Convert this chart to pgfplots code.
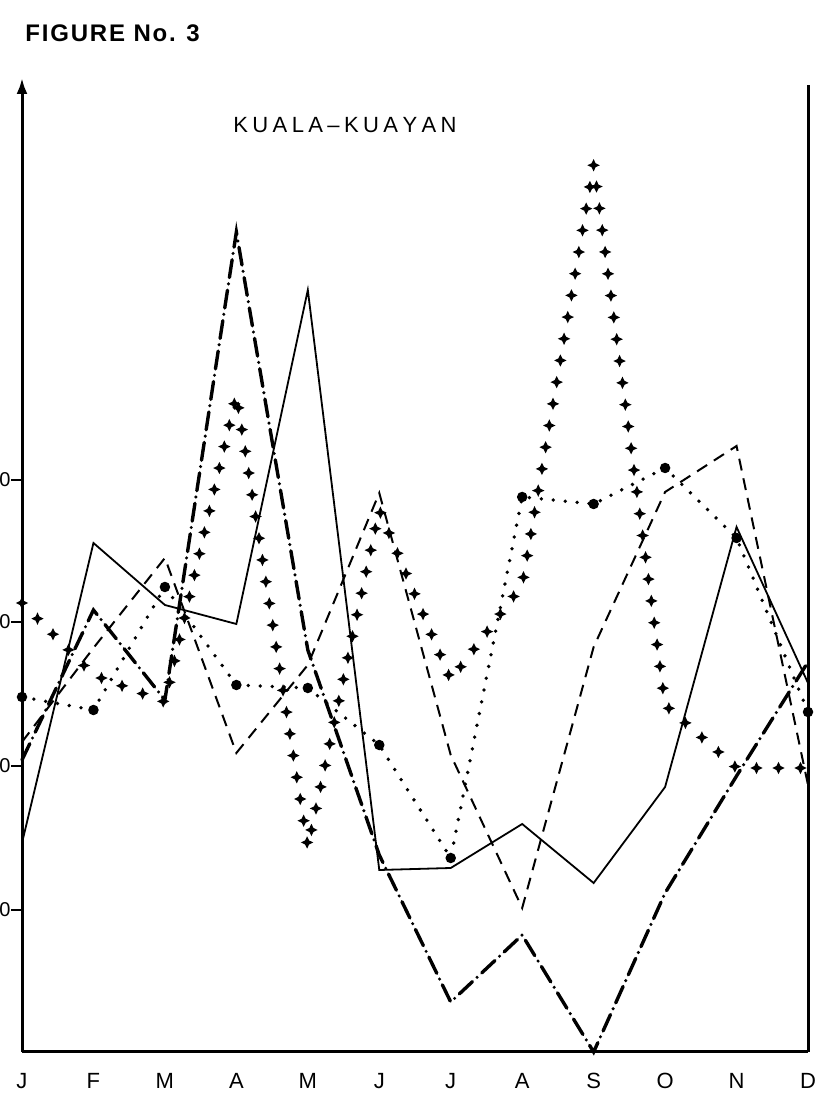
\documentclass[border=0pt]{standalone}
\usepackage{fontspec}
\setmainfont{Liberation Sans}
\usepackage{pgfplots}
\pgfplotsset{compat=1.18}
\usetikzlibrary{arrows.meta,decorations.markings}
\newcommand{\ls}{\kern0.9pt}
\newcommand{\lk}{\kern2.2pt}
\begin{document}
\begin{tikzpicture}
\begin{axis}[name=ax, scale only axis, width=393pt, height=487pt,
  xmin=0, xmax=11, ymin=0, ymax=974, enlargelimits=false,
  axis x line*=bottom, axis y line*=left,
  axis line style={line width=1.5pt, black},
  y axis line style={-{Latex[length=8pt,width=5.5pt]}},
  xtick={0,...,11},
  xticklabels={J,F,M,A,M,J,J,A,S,O,N,D},
  x tick style={draw=none},
  xticklabel style={yshift=-1.5pt, font=\fontsize{11}{13}\selectfont},
  ytick={142,286,430,572},
  yticklabels={0,0,0,0},
  ytick pos=left,
  tick align=outside,
  major tick length=5.5pt,
  y tick style={line width=1pt, black},
  yticklabel style={inner xsep=0pt, font=\fontsize{10}{12}\selectfont},
  clip=false]
% solid
\addplot[black, line width=0.9pt] coordinates {
 (0,209) (1,509) (2,447) (3,428) (4,762) (5,182) (6,184) (7,228) (8,169) (9,265) (10,525) (11,369)};
% dashed
\addplot[black, line width=1pt, dash pattern=on 6pt off 4pt] coordinates {
 (0,310) (1,404) (2,494) (3,299) (4,387) (5,559) (6,297) (7,144) (8,405) (9,560) (10,606) (11,267)};
% dash-dot
\addplot[black, line width=1.7pt, line cap=round, dash pattern=on 9pt off 3.2pt on 0pt off 3.2pt] coordinates {
 (0,292) (1,442) (2,352) (3,820) (4,402) (5,197) (6,50) (7,117) (8,0) (9,159) (10,276) (11,390)};
% dotted
\addplot[black, line width=1.9pt, line cap=round, dash pattern=on 0pt off 6pt,
  mark=*, mark size=1.6pt, mark options={solid}] coordinates {
 (0,355) (1,342) (2,465) (3,367) (4,364) (5,307) (6,194) (7,555) (8,548) (9,584) (10,514) (11,340)};
% stars
\addplot[draw=none, postaction={decorate}, decoration={markings,
  mark=between positions 0 and 1 step 11pt with {\pgftransformresetnontranslations
   \fill[black] (0,3.1pt)--(1pt,1pt)--(3.1pt,0)--(1pt,-1pt)--(0,-3.1pt)--(-1pt,-1pt)--(-3.1pt,0)--(-1pt,1pt)--cycle;}}]
 coordinates {
 (0,449) (1,377) (2,350) (3,657) (4,205) (5,542) (6,372) (7,467) (8,887) (9,347) (10,284) (11,284)};
\draw[line width=1.5pt, black] (rel axis cs:1,0) -- (axis cs:11,967);
\node[anchor=base, font=\fontsize{11}{13}\selectfont] at (axis cs:4.52,919)
  {K\lk U\lk A\lk L\lk A\lk –\lk K\lk U\lk A\lk Y\lk A\lk N};
\end{axis}
\node[anchor=base west, inner sep=0pt, font=\bfseries\fontsize{12}{14}\selectfont] at ([xshift=1.5pt,yshift=18pt]ax.north west)
  {F\ls I\ls G\ls U\ls R\ls E\ls{} N\ls o\ls .\ls{} 3};
\pgfresetboundingbox
\useasboundingbox ([xshift=-11pt,yshift=-22.5pt]ax.south west) rectangle ([xshift=6pt,yshift=39pt]ax.north east);
\end{tikzpicture}
\end{document}
